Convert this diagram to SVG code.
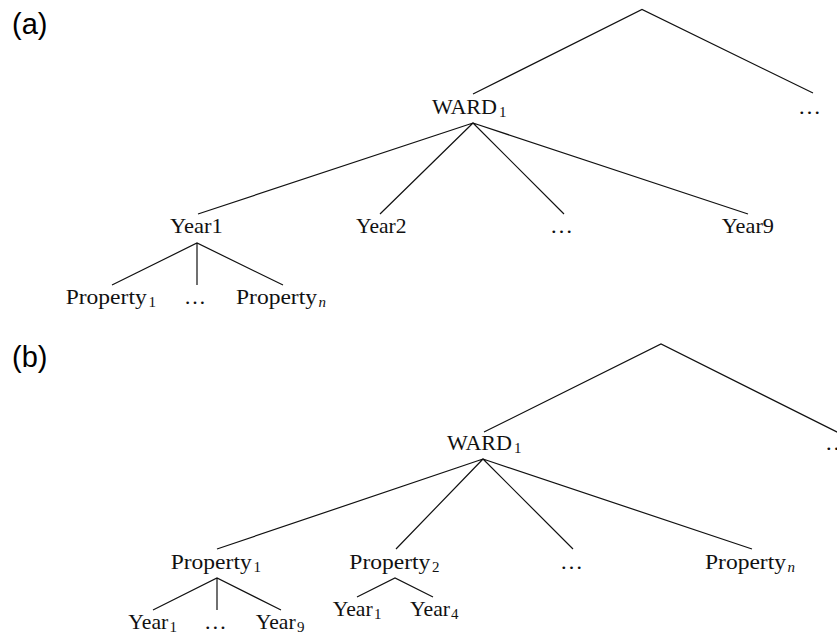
<svg xmlns="http://www.w3.org/2000/svg" width="837" height="635" viewBox="0 0 837 635">
<style>
.lbl{font-family:"Liberation Sans",Arial,sans-serif;font-size:29px;fill:#000}
.t{font-family:"Liberation Serif","Times New Roman",serif;font-size:21px;fill:#111}
.s{font-family:"Liberation Serif","Times New Roman",serif;font-size:15px;fill:#111}
.si{font-family:"Liberation Serif","Times New Roman",serif;font-size:15px;font-style:italic;fill:#111}
.e{stroke:#111;stroke-width:1.2;fill:none}
</style>
<rect width="837" height="635" fill="#fff"/>
<text class="lbl" x="12" y="34">(a)</text>
<text class="lbl" x="12" y="367">(b)</text>
<g id="connectors">
<path class="e" d="M473,94 L642,9.5 L813,93"/>
<path class="e" d="M198,214 L473,123 L380,214 M473,123 L564,214 M473,123 L748,214"/>
<path class="e" d="M112,285 L197,243 L283,285 M197,243 L197,285"/>
<path class="e" d="M484,432 L661,344 L845,436"/>
<path class="e" d="M217,549 L483,459 L396,549 M483,459 L573,549 M483,459 L752,549"/>
<path class="e" d="M153,610 L217,578 L281,610 M217,578 L217,610"/>
<path class="e" d="M357,597 L395,578 L433,597"/>
</g>
<g id="a-ward1"><text class="t" x="432" y="114" textLength="65" lengthAdjust="spacingAndGlyphs">WARD</text><text class="s" x="499" y="117">1</text></g>
<g id="a-more"><text class="t" x="798" y="114" textLength="23" lengthAdjust="spacingAndGlyphs">…</text></g>
<g id="a-year1"><text class="t" x="170" y="233" textLength="52.7" lengthAdjust="spacingAndGlyphs">Year1</text></g>
<g id="a-year2"><text class="t" x="356" y="233" textLength="50.5" lengthAdjust="spacingAndGlyphs">Year2</text></g>
<g id="a-yeardots"><text class="t" x="550" y="233" textLength="23" lengthAdjust="spacingAndGlyphs">…</text></g>
<g id="a-year9"><text class="t" x="721.7" y="233" textLength="52.3" lengthAdjust="spacingAndGlyphs">Year9</text></g>
<g id="a-prop1"><text class="t" x="65.7" y="304" textLength="81" lengthAdjust="spacingAndGlyphs">Property</text><text class="s" x="148.5" y="307">1</text></g>
<g id="a-propdots"><text class="t" x="184" y="304" textLength="22" lengthAdjust="spacingAndGlyphs">…</text></g>
<g id="a-propn"><text class="t" x="236" y="304" textLength="81" lengthAdjust="spacingAndGlyphs">Property</text><text class="si" x="318.5" y="307">n</text></g>
<g id="b-ward1"><text class="t" x="447" y="450" textLength="65" lengthAdjust="spacingAndGlyphs">WARD</text><text class="s" x="514" y="453">1</text></g>
<g id="b-more"><text class="t" x="825" y="450" textLength="23" lengthAdjust="spacingAndGlyphs">…</text></g>
<g id="b-prop1"><text class="t" x="170.7" y="569" textLength="81" lengthAdjust="spacingAndGlyphs">Property</text><text class="s" x="253.5" y="572">1</text></g>
<g id="b-prop2"><text class="t" x="349.3" y="569" textLength="81" lengthAdjust="spacingAndGlyphs">Property</text><text class="s" x="432" y="572">2</text></g>
<g id="b-propdots"><text class="t" x="560" y="569" textLength="23" lengthAdjust="spacingAndGlyphs">…</text></g>
<g id="b-propn"><text class="t" x="705" y="569" textLength="81" lengthAdjust="spacingAndGlyphs">Property</text><text class="si" x="787.5" y="572">n</text></g>
<g id="b-p1-year1"><text class="t" x="128.3" y="629" textLength="40" lengthAdjust="spacingAndGlyphs">Year</text><text class="s" x="169.5" y="632">1</text></g>
<g id="b-p1-dots"><text class="t" x="204" y="629" textLength="22.7" lengthAdjust="spacingAndGlyphs">…</text></g>
<g id="b-p1-year9"><text class="t" x="255.7" y="629" textLength="40" lengthAdjust="spacingAndGlyphs">Year</text><text class="s" x="297" y="632">9</text></g>
<g id="b-p2-year1"><text class="t" x="332.7" y="616" textLength="40" lengthAdjust="spacingAndGlyphs">Year</text><text class="s" x="374" y="619">1</text></g>
<g id="b-p2-year4"><text class="t" x="410" y="616" textLength="40" lengthAdjust="spacingAndGlyphs">Year</text><text class="s" x="451" y="619">4</text></g>
</svg>
